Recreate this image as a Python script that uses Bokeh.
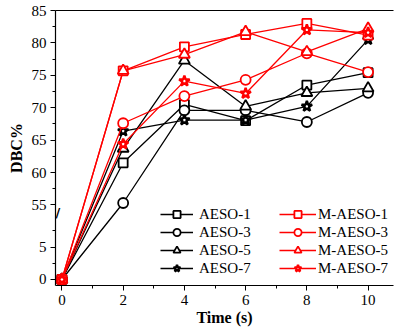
from bokeh.plotting import figure
from bokeh.models import (FixedTicker, CustomJSTickFormatter, Legend, LegendItem,
                          LinearAxis, Range1d, Label)
from bokeh.embed import file_html
from bokeh.resources import INLINE

# ---- data ----
time_s = [0, 2, 4, 6, 8, 10]
aeso_1 = [0, 61.5, 70.5, 68.0, 73.5, 75.4]
aeso_3 = [0, 55.3, 69.6, 69.6, 67.8, 72.3]
aeso_5 = [0, 63.7, 77.3, 70.2, 72.3, 73.0]
aeso_7 = [0, 66.4, 68.1, 68.1, 70.2, 80.5]
m_aeso_1 = [0, 75.7, 79.4, 81.3, 83.0, 81.2]
m_aeso_3 = [0, 67.6, 71.8, 74.3, 78.4, 75.5]
m_aeso_5 = [0, 75.7, 78.2, 81.7, 78.6, 82.2]
m_aeso_7 = [0, 64.4, 74.1, 72.2, 82.0, 81.6]

x_ticks = [0, 2, 4, 6, 8, 10]
x_minor = [1, 3, 5, 7, 9]
y_ticks_low = [0, 5]
y_ticks_high = [55, 60, 65, 70, 75, 80, 85]
y_minor_low = [2.5, 7.5]
y_minor_high = [57.5, 62.5, 67.5, 72.5, 77.5, 82.5]

# ---- broken-axis mapping (values above the break are shifted down) ----
BREAK_AT = 30
SHIFT = 43.5
BREAK_DISPLAY = 10.35   # where the break marks sit on the axis


def to_axis(vals):
    return [v if v < BREAK_AT else v - SHIFT for v in vals]


FONT = "Liberation Serif"

p = figure(width=395, height=328, output_backend="svg", toolbar_location=None,
           x_range=Range1d(-0.21, 10.83), y_range=Range1d(-0.93, 41.5),
           min_border_left=55, min_border_right=2, min_border_top=10,
           min_border_bottom=43)
p.xgrid.visible = False
p.ygrid.visible = False
p.outline_line_color = None
p.background_fill_color = "white"

for ax in (p.xaxis[0], p.yaxis[0]):
    ax.axis_line_color = "black"
    ax.axis_line_width = 1.2
    ax.major_tick_line_color = "black"
    ax.minor_tick_line_color = "black"
    ax.major_tick_in = 0
    ax.major_tick_out = 5
    ax.minor_tick_in = 0
    ax.minor_tick_out = 3
    ax.major_label_text_font = FONT
    ax.major_label_text_font_size = "15px"
    ax.major_label_text_color = "black"
    ax.axis_label_text_font = FONT
    ax.axis_label_text_font_size = "16px"
    ax.axis_label_text_font_style = "bold"
    ax.axis_label_text_color = "black"

p.xaxis[0].ticker = FixedTicker(ticks=x_ticks, minor_ticks=x_minor)
p.xaxis[0].axis_label = "Time (s)"
p.xaxis[0].axis_label_standoff = 1
p.xaxis[0].major_label_standoff = 4

p.yaxis[0].ticker = FixedTicker(ticks=to_axis(y_ticks_low + y_ticks_high),
                                minor_ticks=to_axis(y_minor_low + y_minor_high))
p.yaxis[0].formatter = CustomJSTickFormatter(
    args=dict(s=SHIFT, b=BREAK_DISPLAY),
    code="return (tick > b ? tick + s : tick).toFixed(0);")
p.yaxis[0].axis_label = "DBC%"
p.yaxis[0].axis_label_standoff = 4
p.yaxis[0].major_label_standoff = 4

top = LinearAxis(ticker=FixedTicker(ticks=[]), axis_line_color="black",
                 axis_line_width=1.2, major_tick_line_color=None,
                 minor_tick_line_color=None, major_label_text_font_size="0px")
p.add_layout(top, "above")

# axis-break marks
p.add_layout(Label(x=-0.21, y=BREAK_DISPLAY, text="//", text_align="center",
                   text_baseline="middle", text_font="DejaVu Sans",
                   text_font_size="13px", text_color="black",
                   text_font_style="bold"))

series = [
    ("AESO-1", aeso_1, "black", "square", 9, 1.8),
    ("AESO-3", aeso_3, "black", "circle", 10, 1.8),
    ("AESO-5", aeso_5, "black", "triangle", 11, 1.8),
    ("AESO-7", aeso_7, "black", "star", 11, 2.4),
    ("M-AESO-1", m_aeso_1, "red", "square", 9, 1.8),
    ("M-AESO-3", m_aeso_3, "red", "circle", 10, 1.8),
    ("M-AESO-5", m_aeso_5, "red", "triangle", 11, 1.8),
    ("M-AESO-7", m_aeso_7, "red", "star", 11, 2.4),
]

items_black, items_red = [], []
for name, vals, col, mk, sz, lw in series:
    ys = to_axis(vals)
    lr = p.line(time_s, ys, line_color=col, line_width=1.3)
    sr = p.scatter(time_s, ys, marker=mk, size=sz, line_color=col,
                   line_width=lw, fill_color="white")
    item = LegendItem(label=name, renderers=[lr, sr])
    (items_black if col == "black" else items_red).append(item)


def make_legend(items, loc, gw, standoff):
    return Legend(items=items, location=loc, orientation="vertical",
                  glyph_width=gw, glyph_height=18, label_height=18,
                  spacing=0, padding=0, margin=0, label_standoff=standoff,
                  border_line_color=None, background_fill_alpha=0,
                  label_text_font=FONT, label_text_font_size="15px",
                  label_text_color="black")


p.add_layout(make_legend(items_black, (105, 8), 33, 6))
p.add_layout(make_legend(items_red, (224, 8), 37, 2))

open("out.html", "w").write(file_html(p, INLINE))
